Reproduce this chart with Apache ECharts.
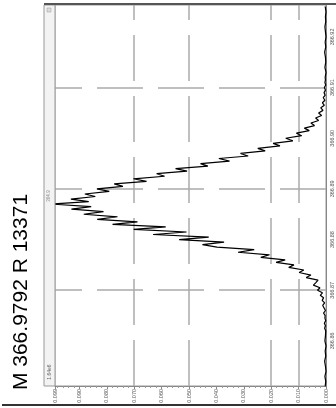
<!DOCTYPE html>
<html><head><meta charset="utf-8">
<script src="https://cdn.jsdelivr.net/npm/echarts@6/dist/echarts.min.js"></script>
<style>html,body{margin:0;padding:0;background:#fff}#c{width:336px;height:408px}</style>
</head><body><div id="c"></div>
<script>
const titleText = "M 366.9792 R 13371";
const scaleText = "1.64e6";
const apexText = "364.9";
const mzValues = [
366.851,366.852,366.853,366.854,366.855,366.856,366.857,366.858,366.859,366.860,366.861,366.862,
366.8625,366.8630,366.8635,366.8640,366.8645,366.8650,366.8655,366.8660,366.8665,366.8670,
366.8675,366.8680,366.8685,366.8690,366.8695,366.8700,366.8705,366.8710,366.8715,366.8720,
366.8725,366.8730,366.8735,366.8740,366.8745,366.8750,366.8755,366.8760,366.8765,366.8770,
366.8775,366.8780,366.8785,366.8790,366.8795,366.8800,366.8805,366.8810,366.8815,366.8820,
366.8825,366.8830,366.8835,366.8840,366.8845,366.8850,366.8855,366.8860,366.8865,366.8870,
366.8875,366.8880,366.8885,366.8890,366.8895,366.8900,366.8905,366.8910,366.8915,366.8920,
366.8925,366.8930,366.8935,366.8940,366.8945,366.8950,366.8955,366.8960,366.8965,366.8970,
366.8975,366.8980,366.8985,366.8990,366.8995,366.9000,366.9005,366.9010,366.9015,366.9020,
366.9025,366.9030,366.9035,366.9040,366.9045,366.9050,366.9055,366.9060,366.9065,366.9070,
366.9075,366.9080,366.9085,366.9090,366.9095,366.9100,366.9105,366.9110,366.9115,
366.912,366.913,366.914,366.915,366.916,366.917,366.918,366.919,366.920,366.921,366.922,366.923,366.924,366.925,366.926
];
const intensityValues = [
0.0003,0.0001,0.0004,0.0000,0.0002,0.0005,0.0001,0.0003,0.0000,0.0004,0.0002,0.0001,
0.0005,0.0002,0.0006,0.0001,0.0004,0.0003,0.0009,0.0002,0.0007,0.0012,
0.0005,0.0014,0.0009,0.0021,0.0013,0.0031,0.0022,0.0046,0.0037,0.0029,
0.0072,0.0055,0.0098,0.0081,0.0136,0.0117,0.0182,0.0149,0.0238,0.0206,
0.0321,0.0262,0.0398,0.0451,0.0372,0.0536,0.0428,0.0631,0.0509,0.0702,
0.0585,0.0779,0.0688,0.0835,0.0761,0.0884,0.0812,0.0929,0.0857,0.1000,
0.0866,0.0931,0.0842,0.0880,0.0791,0.0836,0.0741,0.0773,0.0655,0.0703,
0.0589,0.0618,0.0507,0.0549,0.0431,0.0458,0.0352,0.0391,0.0284,0.0312,
0.0222,0.0249,0.0168,0.0193,0.0121,0.0147,0.0089,0.0108,0.0061,0.0079,
0.0042,0.0055,0.0027,0.0038,0.0016,0.0027,0.0011,0.0019,0.0006,0.0013,
0.0004,0.0010,0.0003,0.0007,0.0002,0.0006,0.0001,0.0004,0.0002,
0.0003,0.0000,0.0004,0.0001,0.0002,0.0005,0.0001,0.0003,0.0000,0.0002,0.0004,0.0001,0.0002,0.0000,0.0003
];
const intensityTicks = [0,0.01,0.02,0.03,0.04,0.05,0.06,0.07,0.08,0.09];
const mzTicks = [366.86,366.87,366.88,366.89,366.90,366.91,366.92];
const mzTickLabels = ["366.86","366.87","366.88","366.89","366.90","366.91","366.92"];
const gridIntensity = [0.0741,0.0496,0.0248,0.0051];
const gridMz = [366.8697,366.8880,366.9062];

const chart = echarts.init(document.getElementById('c'), null, {renderer:'canvas'});
const gl = {color:'#aaaaaa', width:1.5, type:[46,15]};
chart.setOption({
  animation:false,
  grid:{left:55, right:10, top:5, bottom:22, show:true, borderColor:'#999', borderWidth:1, backgroundColor:'#fff'},
  xAxis:{type:'value', inverse:true, min:0, max:0.0989, interval:0.01, position:'bottom',
    axisLine:{show:true, lineStyle:{color:'#888', width:1}},
    axisTick:{show:true, length:3, lineStyle:{color:'#888'}},
    minorTick:{show:true, splitNumber:5, length:2, lineStyle:{color:'#999'}},
    splitLine:{show:false},
    axisLabel:{rotate:90, fontSize:5.5, color:'#555', margin:3, fontFamily:'Liberation Sans',
      formatter:v=>v.toFixed(3)}},
  yAxis:{type:'value', min:366.8511, max:366.9263, position:'right',
    axisLine:{show:true, lineStyle:{color:'#888'}},
    axisTick:{show:false},
    splitLine:{show:false},
    axisLabel:{rotate:90, fontSize:5.5, color:'#555', margin:3, fontFamily:'Liberation Sans',
      customValues:mzTicks, formatter:(v)=>{const i=mzTicks.findIndex(t=>Math.abs(t-v)<1e-6);return i>=0?mzTickLabels[i]:'';}}},
  series:[{type:'line', data:mzValues.map((m,i)=>[intensityValues[i], m]), showSymbol:false, symbol:'none',
    lineStyle:{color:'#000', width:1.2}, clip:true, z:3,
    markLine:{silent:true, symbol:'none', label:{show:false}, lineStyle:gl, z:1,
      data:[...gridIntensity.map(v=>({xAxis:v})), ...gridMz.map(v=>({yAxis:v}))]}}],
  graphic:[
    {type:'rect', shape:{x:44, y:5, width:11, height:381}, style:{fill:'#f3f3f3', stroke:'#999', lineWidth:1}, z:10},
    {type:'line', shape:{x1:44, y1:4, x2:336, y2:4}, style:{stroke:'#555', lineWidth:2}, z:10},
    {type:'line', shape:{x1:2, y1:405, x2:336, y2:405}, style:{stroke:'#333', lineWidth:2}, z:10},
    {type:'text', x:21, y:292, rotation:Math.PI/2, style:{text:titleText, font:'21px "Liberation Sans"', fill:'#000', align:'center', verticalAlign:'middle'}, z:10},
    {type:'text', x:50, y:372, rotation:Math.PI/2, style:{text:scaleText, font:'5px "Liberation Sans"', fill:'#666', align:'center', verticalAlign:'middle'}, z:11},
    {type:'text', x:49, y:196, rotation:Math.PI/2, style:{text:apexText, font:'4.5px "Liberation Sans"', fill:'#888', align:'center', verticalAlign:'middle'}, z:11},
    {type:'rect', shape:{x:47, y:8, width:4, height:4}, style:{fill:'#ddd', stroke:'#999', lineWidth:0.5}, z:11}
  ]
});
</script></body></html>
